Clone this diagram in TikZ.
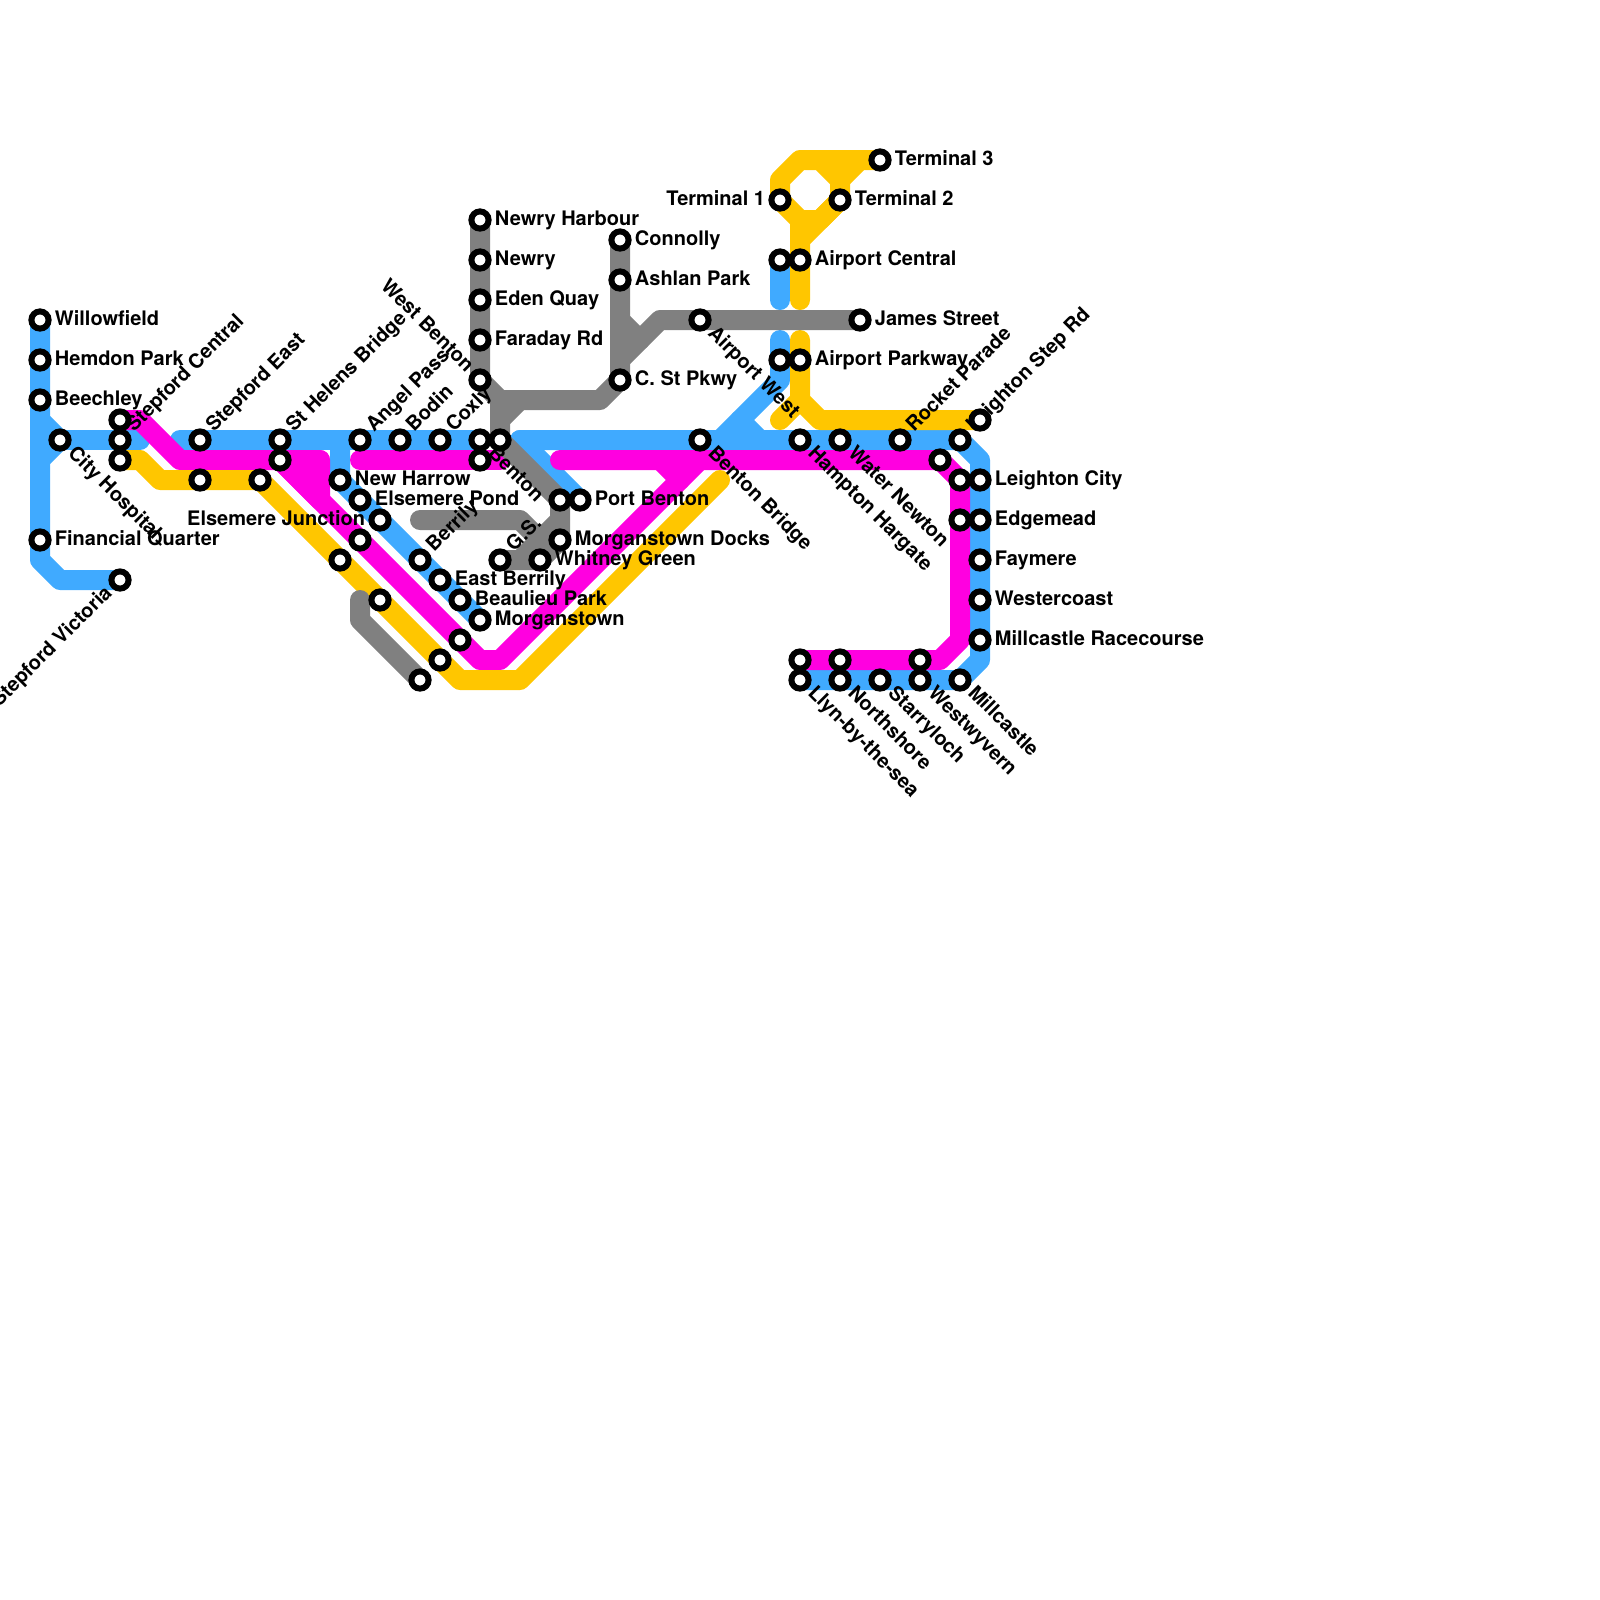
\documentclass[tikz,border=0pt]{standalone}
\usepackage{fontspec}
\setmainfont{TeX Gyre Heros}
\usetikzlibrary{backgrounds}
\tikzset{
  metroline/.style={line width=0.25cm,line cap=round,line join=round},
  station/.style={circle,draw=black,fill=white,line width=0.075cm,minimum size=0.215cm,inner sep=0pt,outer sep=0pt},
  eastlab/.style={anchor=base west,inner sep=0pt},
  westlab/.style={anchor=base east,inner sep=0pt},
  nelab/.style={anchor=base west,inner sep=0pt,rotate=45},
  selab/.style={anchor=base west,inner sep=0pt,rotate=-45},
  swlab/.style={anchor=base east,inner sep=0pt,rotate=45},
  nwlab/.style={anchor=base east,inner sep=0pt,rotate=-45}
}
\begin{document}
\begin{tikzpicture}[x=0.25cm,y=-0.25cm,font=\fontsize{7.11}{8}\bfseries\selectfont]
  \definecolor{lineblue}{RGB}{64,170,255}
  \definecolor{linemagenta}{RGB}{255,0,224}
  \definecolor{lineyellow}{RGB}{255,198,0}
  \definecolor{linegray}{RGB}{128,128,128}
  \useasboundingbox (0,0) rectangle (80,80);

  \foreach \id/\x/\y in {willowfield/2/16,hemdon/2/18,beechley/2/20,financial/2/27,stepvictoria/6/29,
    cityhosp/3/22,stepnorth/6/21,stepcentral/6/22,stepsouth/6/23,stepeast/10/22,stepeastb/10/24,
    sthelens/14/22,sthelensb/14/23,elsemerewest/13/24,newharrow/17/24,angel/18/22,bodin/20/22,coxly/22/22,
    elsemerepond/18/25,elsemerej/19/26,elsemereb/18/27,elsemerec/17/28,elsemered/19/30,
    berrily/21/28,eastberrily/22/29,beaulieu/23/30,morganstown/24/31,southa/23/32,southb/22/33,southc/21/34,
    newryharbour/24/11,newry/24/13,edenquay/24/15,faraday/24/17,westbenton/24/19,
    benton/24/22,bentonsouth/24/23,bentoneast/25/22,portbentonb/28/25,portbenton/29/25,
    docks/28/27,whitney/27/28,gs/25/28,connolly/31/12,ashlan/31/14,cstpkwy/31/19,
    airportwest/35/16,jamesst/43/16,bentonbridge/35/22,
    terminalone/39/10,terminaltwo/42/10,terminalthree/44/8,centralb/39/13,airportcentral/40/13,
    parkwayb/39/18,airportparkway/40/18,hampton/40/22,waternewton/42/22,rocket/45/22,
    leightonstep/48/22,leightonb/49/21,turnright/47/23,leightona/48/24,leightoncity/49/24,
    edgemeada/48/26,edgemead/49/26,faymere/49/28,westercoast/49/30,racecourse/49/32,
    llynb/40/33,llyn/40/34,northb/42/33,northshore/42/34,starryloch/44/34,westb/46/33,westwyvern/46/34,millcastle/48/34}
    {\node[station] (\id) at (\x,\y) {};}

  \begin{scope}[on background layer]
    % blue
    \draw[metroline,lineblue] (willowfield.center) -- (financial.center) -- (2,28) -- (3,29) -- (stepvictoria.center);
    \draw[metroline,lineblue] (2,21) -- (cityhosp.center) -- (2,23);
    \draw[metroline,lineblue] (cityhosp.center) -- (7,22);
    \draw[metroline,lineblue] (9,22) -- (benton.center);
    \draw[metroline,lineblue] (17,22) -- (newharrow.center) -- (morganstown.center);
    \draw[metroline,lineblue] (26,22) -- (leightonstep.center) -- (49,23) -- (49,33) -- (millcastle.center) -- (llyn.center);
    \draw[metroline,lineblue] (26,22) -- (portbenton.center);
    \draw[metroline,lineblue] (39,17) -- (39,19) -- (36,22);
    \draw[metroline,lineblue] (37,21) -- (38,22);
    \draw[metroline,lineblue] (centralb.center) -- (39,15);
    % magenta
    \draw[metroline,linemagenta] (stepnorth.center) -- (7,21) -- (9,23) -- (16,23);
    \draw[metroline,linemagenta,fill=linemagenta] (sthelensb.center) -- (16,23) -- (16,25) -- cycle;
    \draw[metroline,linemagenta] (sthelensb.center) -- (24,33) -- (25,33) -- (35,23);
    \draw[metroline,linemagenta] (18,23) -- (25,23);
    \draw[metroline,linemagenta] (28,23) -- (turnright.center) -- (leightona.center) -- (48,32) -- (47,33) -- (llynb.center);
    \draw[metroline,linemagenta] (33,23) -- (34,24);
    % yellow
    \draw[metroline,lineyellow] (stepsouth.center) -- (7,23) -- (8,24) -- (elsemerewest.center) -- (23,34) -- (26,34) -- (36,24);
    \draw[metroline,lineyellow] (terminalthree.center) -- (40,8) -- (39,9) -- (terminalone.center) -- (40,11) -- (41,11) -- (terminaltwo.center) -- (42,9) -- (41,8);
    \draw[metroline,lineyellow] (43,8) -- (42,9);
    \draw[metroline,lineyellow] (terminaltwo.center) -- (40,12) -- (40,15);
    \draw[metroline,lineyellow] (40,11) -- (40,12);
    \draw[metroline,lineyellow] (40,17) -- (40,20) -- (41,21) -- (leightonb.center);
    \draw[metroline,lineyellow] (39,21) -- (40,20);
    % gray
    \draw[metroline,linegray] (newryharbour.center) -- (westbenton.center) -- (25,20) -- (30,20) -- (cstpkwy.center) -- (connolly.center);
    \draw[metroline,linegray] (25,20) -- (bentoneast.center) -- (portbentonb.center) -- (docks.center) -- (whitney.center) -- (gs.center);
    \draw[metroline,linegray] (25,21) -- (26,20);
    \draw[metroline,linegray] (31,18) -- (33,16) -- (jamesst.center);
    \draw[metroline,linegray] (31,16) -- (32,17);
    \draw[metroline,linegray] (21,26) -- (26,26) -- (27,27);
    \draw[metroline,linegray] (28,26) -- (26,28);
    \draw[metroline,linegray] (18,30) -- (18,31) -- (southc.center);

    \foreach \id/\lab in {willowfield/Willowfield,hemdon/Hemdon Park,beechley/Beechley,financial/Financial Quarter,
      newharrow/New Harrow,elsemerepond/Elsemere Pond,eastberrily/East Berrily,beaulieu/Beaulieu Park,morganstown/Morganstown,
      newryharbour/Newry Harbour,newry/Newry,edenquay/Eden Quay,faraday/Faraday Rd,connolly/Connolly,ashlan/Ashlan Park,cstpkwy/C. St Pkwy,
      portbenton/Port Benton,docks/Morganstown Docks,whitney/Whitney Green,jamesst/James Street,
      terminaltwo/Terminal 2,terminalthree/Terminal 3,airportcentral/Airport Central,airportparkway/Airport Parkway,
      leightoncity/Leighton City,edgemead/Edgemead,faymere/Faymere,westercoast/Westercoast,racecourse/Millcastle Racecourse}
      {\node[eastlab] (lab-\id) at ([shift={(0.18cm,-0.0625cm)}]\id.center) {\lab};}
    \foreach \id/\lab in {elsemerej/Elsemere Junction,terminalone/Terminal 1}
      {\node[westlab] (lab-\id) at ([shift={(-0.18cm,-0.0625cm)}]\id.center) {\lab};}
    \foreach \id/\lab in {stepcentral/Stepford Central,stepeast/Stepford East,sthelens/St Helens Bridge,angel/Angel Pass,bodin/Bodin,coxly/Coxly,
      berrily/Berrily,gs/G.S.,rocket/Rocket Parade,leightonstep/Leighton Step Rd}
      {\node[nelab] (lab-\id) at ([shift={(0.1725cm,0.084cm)}]\id.center) {\lab};}
    \foreach \id/\lab in {cityhosp/City Hospital,benton/Benton,airportwest/Airport West,bentonbridge/Benton Bridge,hampton/Hampton Hargate,
      waternewton/Water Newton,llyn/Llyn-by-the-sea,northshore/Northshore,starryloch/Starryloch,westwyvern/Westwyvern,millcastle/Millcastle}
      {\node[selab] (lab-\id) at ([shift={(0.084cm,-0.1725cm)}]\id.center) {\lab};}
    \node[swlab] (lab-stepvictoria) at ([shift={(-0.084cm,-0.1725cm)}]stepvictoria.center) {Stepford Victoria};
    \node[nwlab] (lab-westbenton) at ([shift={(-0.1725cm,0.084cm)}]westbenton.center) {West Benton};
  \end{scope}
\end{tikzpicture}
\end{document}
